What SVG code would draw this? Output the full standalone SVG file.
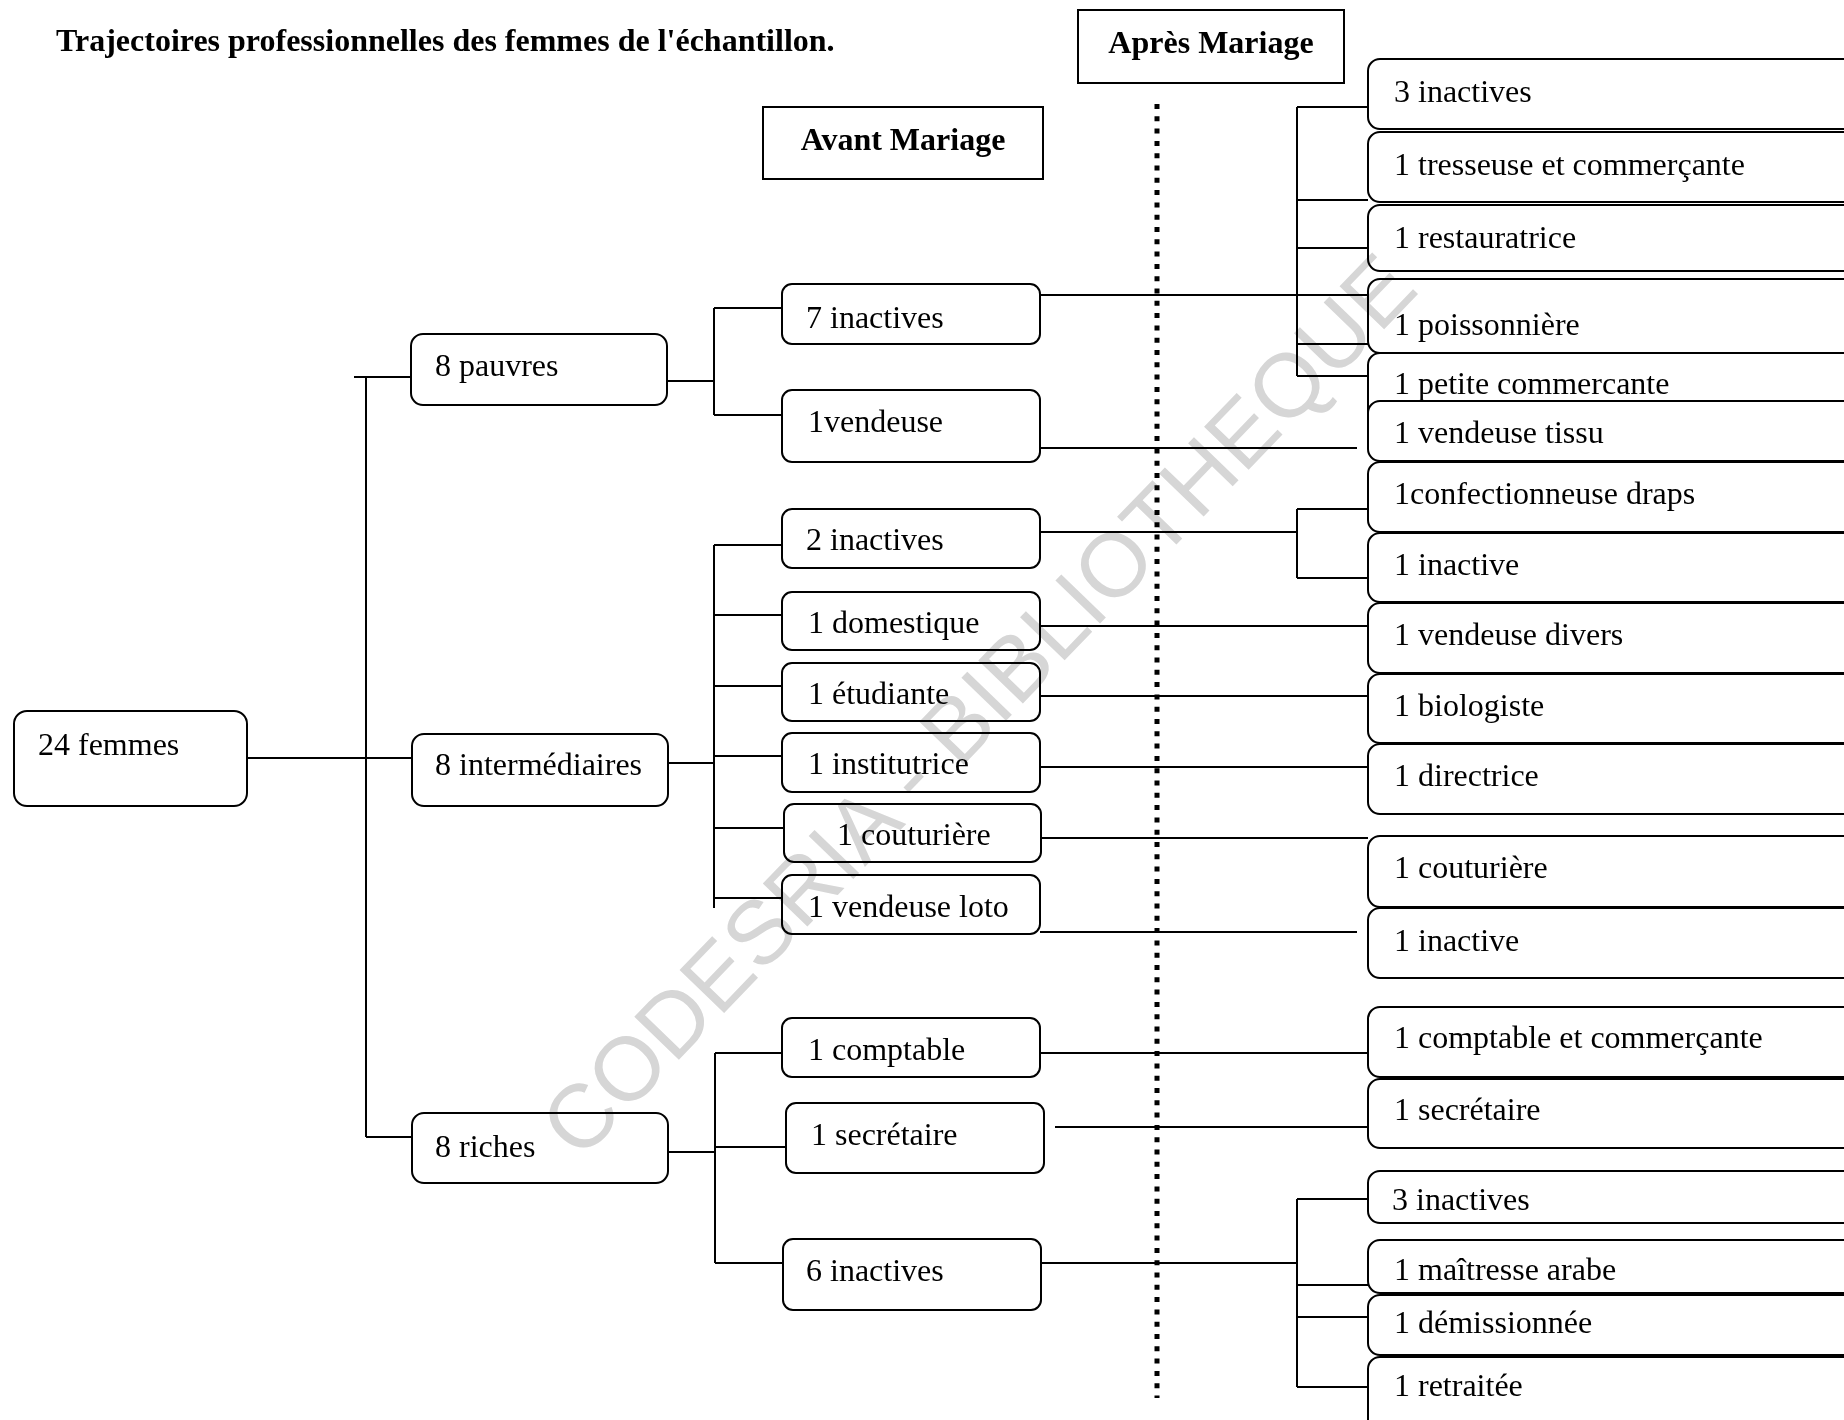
<svg xmlns="http://www.w3.org/2000/svg" width="1844" height="1420" viewBox="0 0 1844 1420">
<style>
.bx{fill:#fff;stroke:#000;stroke-width:2}
.hd{fill:#fff;stroke:#000;stroke-width:2}
.t{font-family:"Liberation Serif","Times New Roman",serif;font-size:32px;fill:#000}
.tb{font-family:"Liberation Serif","Times New Roman",serif;font-size:32px;font-weight:bold;fill:#000}
.c{stroke:#000;stroke-width:2;fill:none}
.dot{stroke:#000;stroke-width:5;stroke-dasharray:5 7.3;fill:none}
.wm{font-family:"Liberation Sans",Arial,sans-serif;font-size:90px;fill:#d6d6d6;mix-blend-mode:multiply}
</style>
<rect width="1844" height="1420" fill="#fff"/>
<text class="tb" x="56" y="51">Trajectoires professionnelles des femmes de l'échantillon.</text>

<g id="header-apres"><rect class="hd" x="1078" y="10" width="266" height="73"/><text class="tb" x="1211" y="53" text-anchor="middle">Après Mariage</text></g>
<g id="header-avant"><rect class="hd" x="763" y="107" width="280" height="72"/><text class="tb" x="903" y="150" text-anchor="middle">Avant Mariage</text></g>

<g id="connectors">
<line class="dot" x1="1157" y1="104" x2="1157" y2="1398"/>
<path class="c" d="M247 758H412M366 377V1137M354 377H411M366 1137H412"/>
<path class="c" d="M667 381H714M714 308V415M714 308H782M714 415H782"/>
<path class="c" d="M668 763H714M714 545V908M714 545H782M714 615H782M714 686H782M714 756H782M714 828H784M714 898H782"/>
<path class="c" d="M668 1152H715M715 1053V1263M715 1053H782M715 1147H786M715 1263H783"/>
<path class="c" d="M1040 295H1368M1297 107V376M1297 107H1368M1297 200H1368M1297 248H1368M1297 344H1368M1297 376H1368"/>
<path class="c" d="M1030 448H1357"/>
<path class="c" d="M1040 532H1297M1297 509V578M1297 509H1368M1297 578H1368"/>
<path class="c" d="M1040 626H1368M1040 696H1368M1040 767H1368M1041 838H1368M1040 932H1357"/>
<path class="c" d="M1040 1053H1368M1055 1127H1368M1041 1263H1297M1297 1199V1387M1297 1199H1368M1297 1285H1368M1297 1317H1368M1297 1387H1368"/>
</g>

<g id="n-24femmes"><rect class="bx" x="14" y="711" width="233" height="95" rx="13"/><text class="t" x="38" y="755">24 femmes</text></g>
<g id="n-pauvres"><rect class="bx" x="411" y="334" width="256" height="71" rx="12"/><text class="t" x="435" y="376">8 pauvres</text></g>
<g id="n-intermediaires"><rect class="bx" x="412" y="734" width="256" height="72" rx="12"/><text class="t" x="435" y="775">8 intermédiaires</text></g>
<g id="n-riches"><rect class="bx" x="412" y="1113" width="256" height="70" rx="12"/><text class="t" x="435" y="1157">8 riches</text></g>

<g id="b-7inactives"><rect class="bx" x="782" y="284" width="258" height="60" rx="10"/><text class="t" x="806" y="328">7 inactives</text></g>
<g id="b-vendeuse"><rect class="bx" x="782" y="390" width="258" height="72" rx="10"/><text class="t" x="808" y="432">1vendeuse</text></g>
<g id="b-2inactives"><rect class="bx" x="782" y="509" width="258" height="59" rx="10"/><text class="t" x="806" y="550">2 inactives</text></g>
<g id="b-domestique"><rect class="bx" x="782" y="592" width="258" height="58" rx="10"/><text class="t" x="808" y="633">1 domestique</text></g>
<g id="b-etudiante"><rect class="bx" x="782" y="663" width="258" height="58" rx="10"/><text class="t" x="808" y="704">1 étudiante</text></g>
<g id="b-institutrice"><rect class="bx" x="782" y="733" width="258" height="59" rx="10"/><text class="t" x="808" y="774">1 institutrice</text></g>
<g id="b-couturiere"><rect class="bx" x="784" y="804" width="257" height="58" rx="10"/><text class="t" x="837" y="845">1 couturière</text></g>
<g id="b-vendeuseloto"><rect class="bx" x="782" y="875" width="258" height="59" rx="10"/><text class="t" x="808" y="917">1 vendeuse loto</text></g>
<g id="b-comptable"><rect class="bx" x="782" y="1018" width="258" height="59" rx="10"/><text class="t" x="808" y="1060">1 comptable</text></g>
<g id="b-secretaire"><rect class="bx" x="786" y="1103" width="258" height="70" rx="10"/><text class="t" x="811" y="1145">1 secrétaire</text></g>
<g id="b-6inactives"><rect class="bx" x="783" y="1239" width="258" height="71" rx="10"/><text class="t" x="806" y="1281">6 inactives</text></g>

<g id="a-3inactives"><rect class="bx" x="1368" y="59" width="540" height="70" rx="12"/><text class="t" x="1394" y="102">3 inactives</text></g>
<g id="a-tresseuse"><rect class="bx" x="1368" y="132" width="540" height="70" rx="12"/><text class="t" x="1394" y="175">1 tresseuse et commerçante</text></g>
<g id="a-restauratrice"><rect class="bx" x="1368" y="205" width="540" height="66" rx="12"/><text class="t" x="1394" y="248">1 restauratrice</text></g>
<g id="a-poissonniere"><rect class="bx" x="1368" y="279" width="540" height="74" rx="12"/><text class="t" x="1394" y="335">1 poissonnière</text></g>
<g id="a-petitecommercante"><rect class="bx" x="1368" y="353" width="540" height="70" rx="12"/><text class="t" x="1394" y="394">1 petite commercante</text></g>
<g id="a-vendeusetissu"><rect class="bx" x="1368" y="401" width="540" height="60" rx="12"/><text class="t" x="1394" y="443">1 vendeuse tissu</text></g>
<g id="a-confectionneuse"><rect class="bx" x="1368" y="462" width="540" height="70" rx="12"/><text class="t" x="1394" y="504">1confectionneuse draps</text></g>
<g id="a-inactive1"><rect class="bx" x="1368" y="533" width="540" height="69" rx="12"/><text class="t" x="1394" y="575">1 inactive</text></g>
<g id="a-vendeusedivers"><rect class="bx" x="1368" y="603" width="540" height="70" rx="12"/><text class="t" x="1394" y="645">1 vendeuse divers</text></g>
<g id="a-biologiste"><rect class="bx" x="1368" y="674" width="540" height="69" rx="12"/><text class="t" x="1394" y="716">1 biologiste</text></g>
<g id="a-directrice"><rect class="bx" x="1368" y="744" width="540" height="70" rx="12"/><text class="t" x="1394" y="786">1 directrice</text></g>
<g id="a-couturiere"><rect class="bx" x="1368" y="836" width="540" height="71" rx="12"/><text class="t" x="1394" y="878">1 couturière</text></g>
<g id="a-inactive2"><rect class="bx" x="1368" y="908" width="540" height="70" rx="12"/><text class="t" x="1394" y="951">1 inactive</text></g>
<g id="a-comptablecommercante"><rect class="bx" x="1368" y="1007" width="540" height="70" rx="12"/><text class="t" x="1394" y="1048">1 comptable et commerçante</text></g>
<g id="a-secretaire"><rect class="bx" x="1368" y="1079" width="540" height="69" rx="12"/><text class="t" x="1394" y="1120">1 secrétaire</text></g>
<g id="a-3inactives2"><rect class="bx" x="1368" y="1171" width="540" height="52" rx="12"/><text class="t" x="1392" y="1210">3 inactives</text></g>
<g id="a-maitresse"><rect class="bx" x="1368" y="1240" width="540" height="53" rx="12"/><text class="t" x="1394" y="1280">1 maîtresse arabe</text></g>
<g id="a-demissionnee"><rect class="bx" x="1368" y="1295" width="540" height="60" rx="12"/><text class="t" x="1394" y="1333">1 démissionnée</text></g>
<g id="a-retraitee"><rect class="bx" x="1368" y="1357" width="540" height="90" rx="12"/><text class="t" x="1394" y="1396">1 retraitée</text></g>

<text class="wm" x="580" y="1162" transform="rotate(-46 580 1162)">CODESRIA - BIBLIOTHEQUE</text>
</svg>
